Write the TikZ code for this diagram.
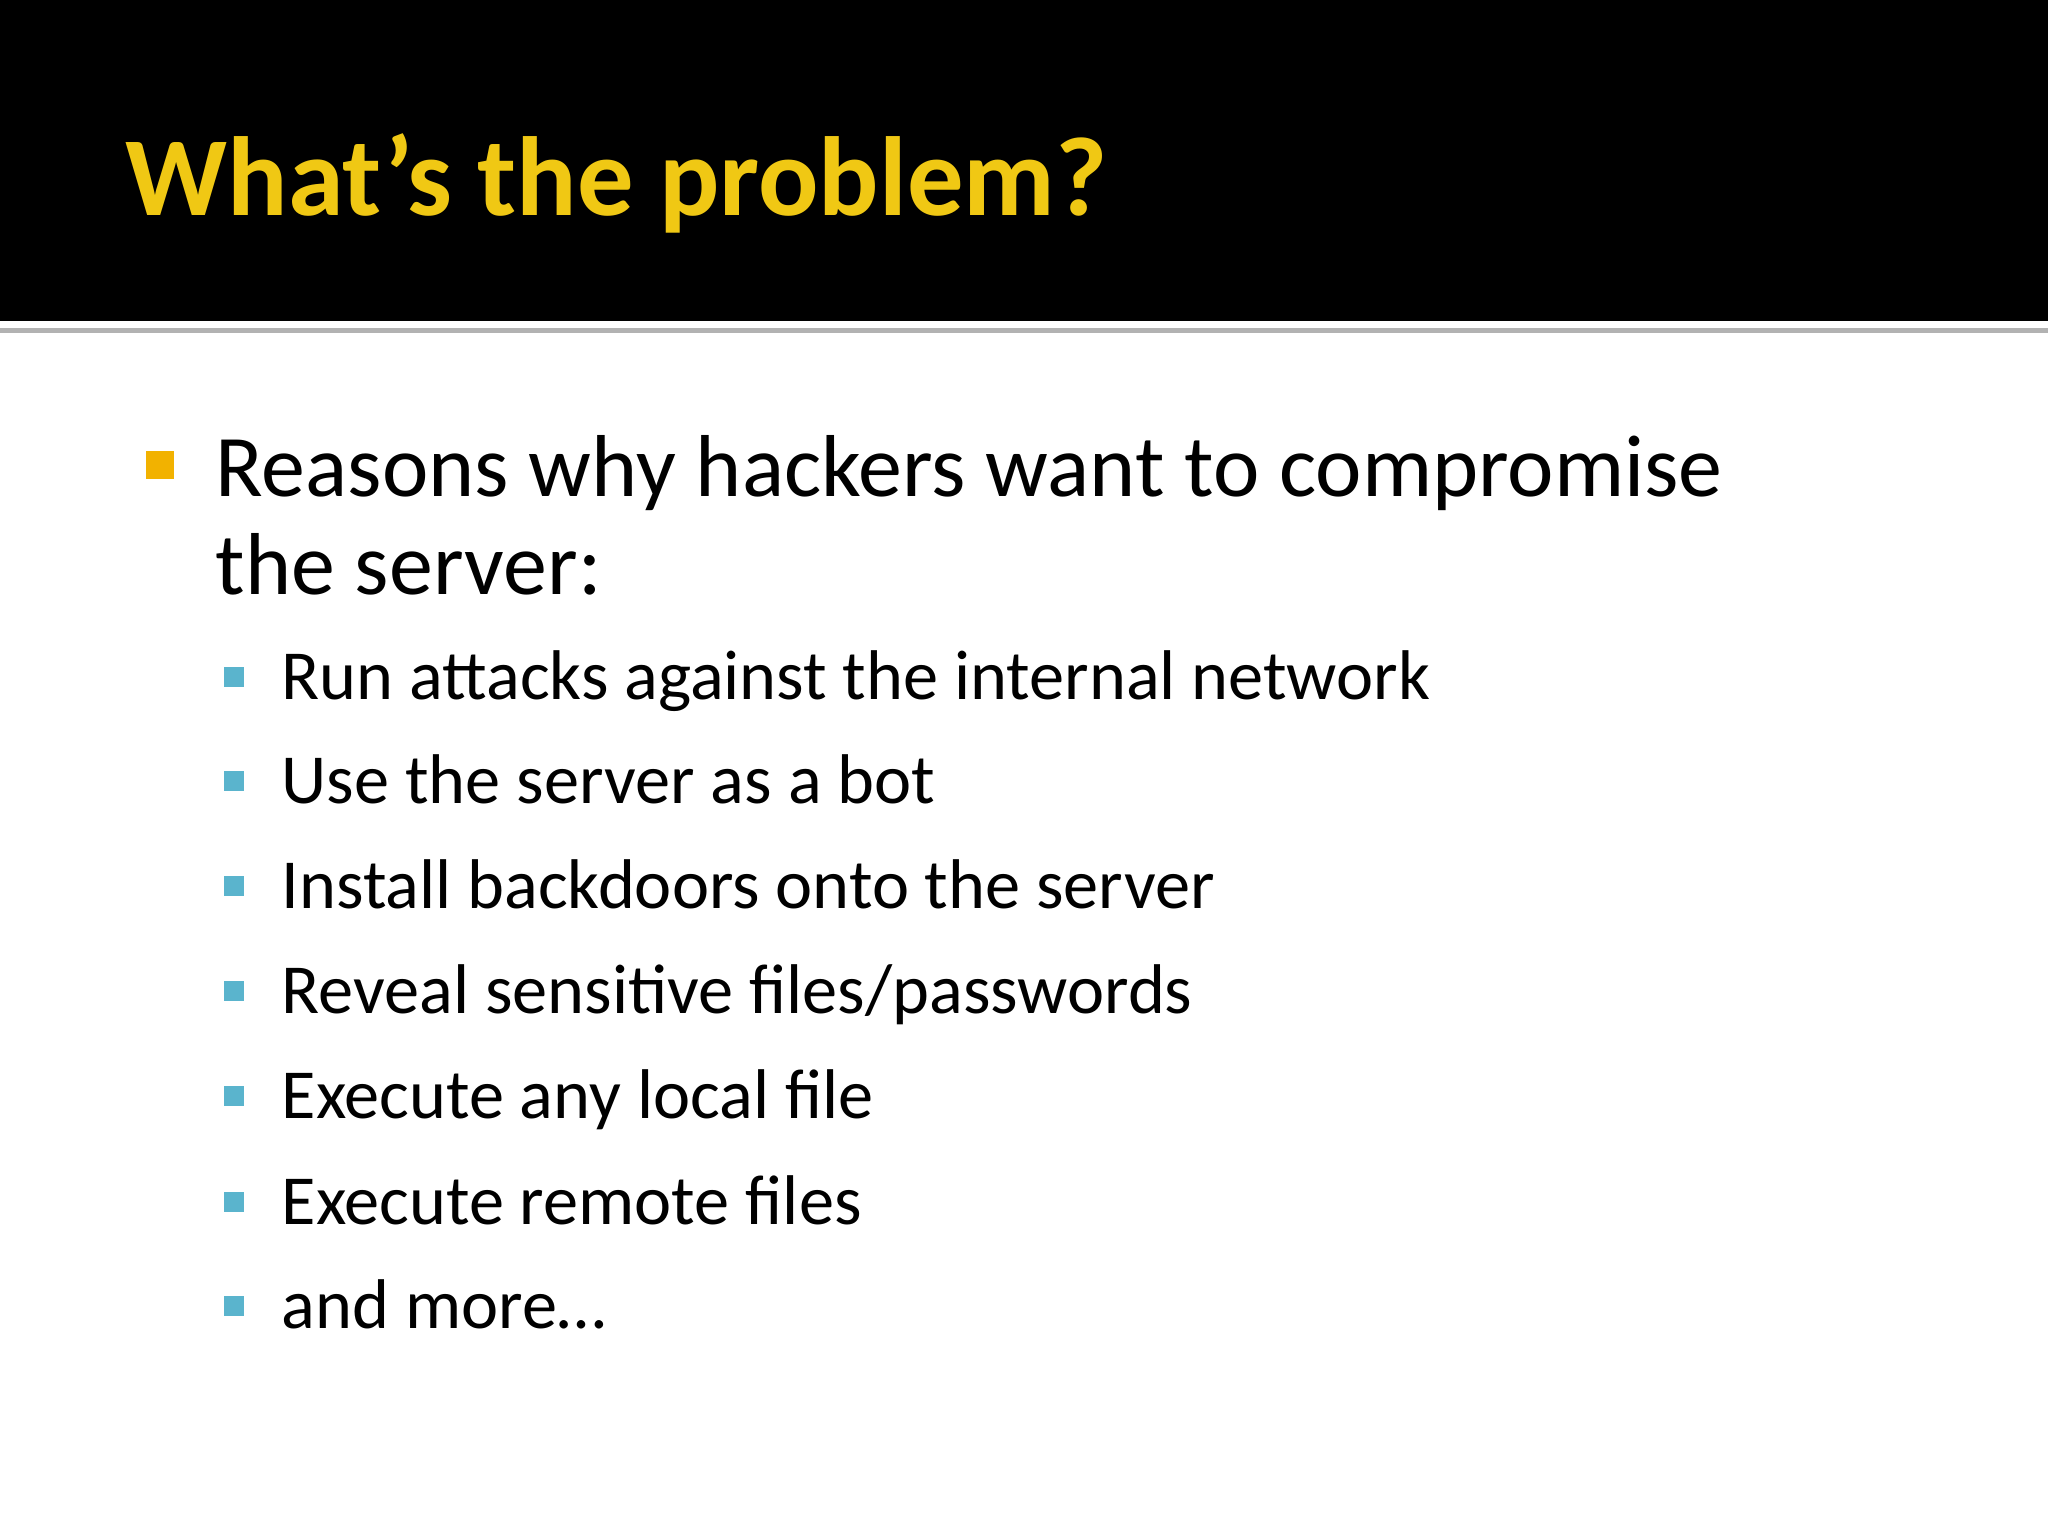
\documentclass[tikz,border=0pt]{standalone}
\usepackage{fontspec}
\setmainfont{Carlito}
\definecolor{ttl}{RGB}{240,200,20}
\definecolor{orb}{RGB}{242,178,0}
\definecolor{tlb}{RGB}{90,180,205}
\begin{document}
\begin{tikzpicture}[x=0.01cm,y=-0.01cm,
  main/.style={anchor=base west,inner sep=0,font=\fontsize{25}{30}\selectfont},
  sub/.style={anchor=base west,inner sep=0,font=\fontsize{20}{24}\selectfont},
  sq/.style={fill=tlb,minimum size=0.2cm,inner sep=0}]
\useasboundingbox (0,0) rectangle (2048,1536);
\fill[black] (0,0) rectangle (2048,321);
\fill[gray!60] (0,328) rectangle (2048,333);
\node[anchor=base west,inner sep=0,text=ttl,font=\bfseries\fontsize{32}{38}\selectfont] (title) at (125,215) {What’s the problem?};
\node[fill=orb,minimum size=0.28cm,inner sep=0] (b0) at (160,465) {};
\node[main] (m1) at (215,496) {Reasons why hackers want to compromise};
\node[main] (m2) at (215,594) {the server:};
\node[sq] (s1) at (234,677) {};  \node[sub] (t1) at (281,699) {Run attacks against the internal network};
\node[sq] (s2) at (234,781) {};  \node[sub] (t2) at (281,803) {Use the server as a bot};
\node[sq] (s3) at (234,886) {};  \node[sub] (t3) at (281,908) {Install backdoors onto the server};
\node[sq] (s4) at (234,991) {};  \node[sub] (t4) at (281,1013) {Reveal sensitive files/passwords};
\node[sq] (s5) at (234,1096) {}; \node[sub] (t5) at (281,1118) {Execute any local file};
\node[sq] (s6) at (234,1202) {}; \node[sub] (t6) at (281,1224) {Execute remote files};
\node[sq] (s7) at (234,1306) {}; \node[sub] (t7) at (281,1328) {and more…};
\end{tikzpicture}
\end{document}
